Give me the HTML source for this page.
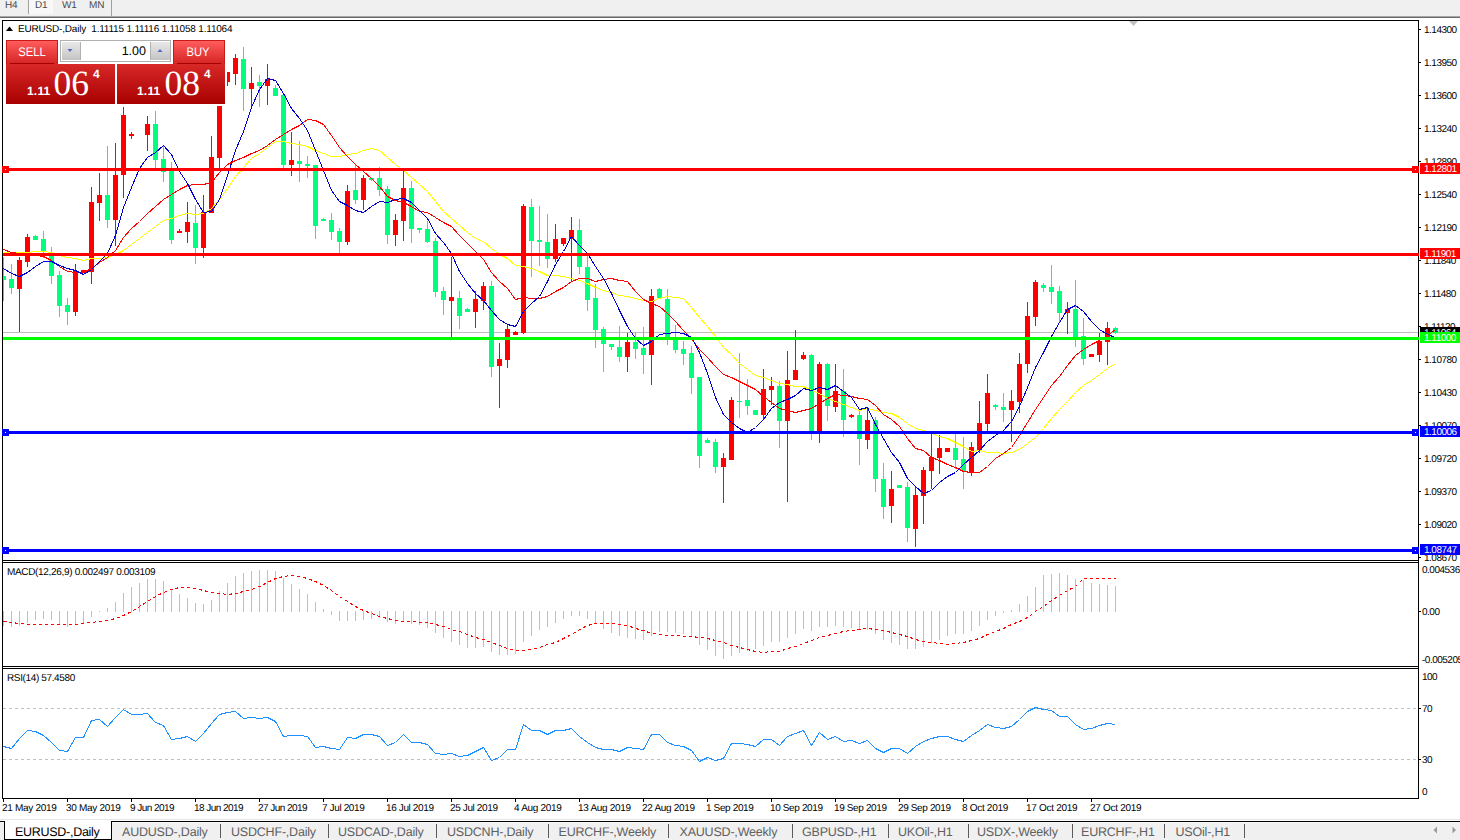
<!DOCTYPE html>
<html><head><meta charset="utf-8"><title>EURUSD-,Daily</title>
<style>
html,body{margin:0;padding:0;}
body{text-rendering:geometricPrecision;width:1460px;height:840px;overflow:hidden;background:#fff;position:relative;font-family:"Liberation Sans",sans-serif;}
.abs{position:absolute;}
.t{position:absolute;white-space:nowrap;font-size:10px;line-height:10px;color:#000;letter-spacing:-0.25px;}
.n{font-size:10px;letter-spacing:-0.5px;}
#toolbar{left:0;top:0;width:1460px;height:16px;background:#f0f0f0;}
#tbline{left:0;top:16px;width:1460px;height:1px;background:#a6a6a6;border-bottom:1px solid #6a6a6a;}
.tb{position:absolute;top:1px;font-size:10px;line-height:10px;color:#4a4a4a;letter-spacing:-0.1px;}
.pl{position:absolute;left:1420px;width:40px;height:11px;color:#fff;font-size:10px;line-height:11px;letter-spacing:-0.5px;}
.pl span{position:absolute;left:4px;top:1px;}
.tab{position:absolute;top:825px;font-size:12.5px;line-height:14px;color:#606060;white-space:nowrap;letter-spacing:-0.2px;}
.sep{position:absolute;top:824px;width:1px;height:14px;background:#5a5a5a;}
</style></head><body>

<div id="toolbar" class="abs"></div><div id="tbline" class="abs"></div>
<div class="abs" style="left:29px;top:0;width:24px;height:14px;background:#f8f8f8;"></div>
<div class="abs" style="left:28px;top:0;width:1px;height:14px;background:#a0a0a0;"></div>
<div class="abs" style="left:111px;top:0;width:1px;height:16px;background:#a0a0a0;"></div>
<div class="tb" style="left:5px;">H4</div>
<div class="tb" style="left:35px;">D1</div>
<div class="tb" style="left:62px;">W1</div>
<div class="tb" style="left:89px;">MN</div>
<svg class="abs" style="left:0;top:0;" width="1460" height="840" viewBox="0 0 1460 840" shape-rendering="crispEdges">
<rect x="2" y="20" width="1417" height="1" fill="#000"/>
<rect x="2" y="20" width="1" height="779" fill="#000"/>
<rect x="1418" y="20" width="1" height="779" fill="#000"/>
<rect x="2" y="798" width="1417" height="1" fill="#000"/>
<rect x="2" y="560" width="1417" height="1" fill="#000"/>
<rect x="2" y="562" width="1417" height="1" fill="#000"/>
<rect x="2" y="666" width="1417" height="1" fill="#000"/>
<rect x="2" y="668" width="1417" height="1" fill="#000"/>
<rect x="3" y="332" width="1415" height="1" fill="#c0c0c0"/>
<rect x="3" y="257" width="1" height="44" fill="#00ff7f"/>
<rect x="3" y="276" width="3" height="4" fill="#00ff7f"/>
<rect x="11" y="264" width="1" height="30" fill="#00ff7f"/>
<rect x="9" y="279" width="5" height="9" fill="#00ff7f"/>
<rect x="19" y="257" width="1" height="75" fill="#ff0000"/>
<rect x="17" y="260" width="5" height="29" fill="#ff0000"/>
<rect x="27" y="234" width="1" height="33" fill="#ff0000"/>
<rect x="25" y="237" width="5" height="25" fill="#ff0000"/>
<rect x="35" y="235" width="1" height="5" fill="#00ff7f"/>
<rect x="33" y="236" width="5" height="4" fill="#00ff7f"/>
<rect x="43" y="231" width="1" height="27" fill="#00ff7f"/>
<rect x="41" y="239" width="5" height="12" fill="#00ff7f"/>
<rect x="51" y="247" width="1" height="37" fill="#00ff7f"/>
<rect x="49" y="255" width="5" height="21" fill="#00ff7f"/>
<rect x="59" y="271" width="1" height="46" fill="#00ff7f"/>
<rect x="57" y="275" width="5" height="31" fill="#00ff7f"/>
<rect x="67" y="298" width="1" height="27" fill="#00ff7f"/>
<rect x="65" y="305" width="5" height="7" fill="#00ff7f"/>
<rect x="75" y="264" width="1" height="52" fill="#ff0000"/>
<rect x="73" y="271" width="5" height="41" fill="#ff0000"/>
<rect x="83" y="270" width="1" height="3" fill="#ff0000"/>
<rect x="81" y="270" width="5" height="3" fill="#ff0000"/>
<rect x="91" y="187" width="1" height="97" fill="#ff0000"/>
<rect x="89" y="202" width="5" height="70" fill="#ff0000"/>
<rect x="99" y="173" width="1" height="48" fill="#ff0000"/>
<rect x="97" y="195" width="5" height="8" fill="#ff0000"/>
<rect x="107" y="146" width="1" height="82" fill="#00ff7f"/>
<rect x="105" y="195" width="5" height="25" fill="#00ff7f"/>
<rect x="115" y="143" width="1" height="103" fill="#ff0000"/>
<rect x="113" y="175" width="5" height="45" fill="#ff0000"/>
<rect x="123" y="107" width="1" height="91" fill="#ff0000"/>
<rect x="121" y="115" width="5" height="60" fill="#ff0000"/>
<rect x="131" y="132" width="1" height="7" fill="#ff0000"/>
<rect x="129" y="134" width="5" height="2" fill="#ff0000"/>
<rect x="147" y="116" width="1" height="35" fill="#ff0000"/>
<rect x="145" y="124" width="5" height="11" fill="#ff0000"/>
<rect x="155" y="111" width="1" height="57" fill="#00ff7f"/>
<rect x="153" y="124" width="5" height="36" fill="#00ff7f"/>
<rect x="163" y="145" width="1" height="37" fill="#00ff7f"/>
<rect x="161" y="159" width="5" height="13" fill="#00ff7f"/>
<rect x="171" y="162" width="1" height="82" fill="#00ff7f"/>
<rect x="169" y="171" width="5" height="69" fill="#00ff7f"/>
<rect x="179" y="229" width="1" height="4" fill="#ff0000"/>
<rect x="177" y="231" width="5" height="2" fill="#ff0000"/>
<rect x="187" y="202" width="1" height="41" fill="#ff0000"/>
<rect x="185" y="222" width="5" height="10" fill="#ff0000"/>
<rect x="195" y="205" width="1" height="59" fill="#00ff7f"/>
<rect x="193" y="223" width="5" height="25" fill="#00ff7f"/>
<rect x="203" y="195" width="1" height="63" fill="#ff0000"/>
<rect x="201" y="212" width="5" height="36" fill="#ff0000"/>
<rect x="211" y="136" width="1" height="77" fill="#ff0000"/>
<rect x="209" y="157" width="5" height="56" fill="#ff0000"/>
<rect x="219" y="82" width="1" height="86" fill="#ff0000"/>
<rect x="217" y="82" width="5" height="76" fill="#ff0000"/>
<rect x="227" y="72" width="1" height="14" fill="#ff0000"/>
<rect x="225" y="72" width="5" height="10" fill="#ff0000"/>
<rect x="235" y="54" width="1" height="31" fill="#ff0000"/>
<rect x="233" y="58" width="5" height="16" fill="#ff0000"/>
<rect x="243" y="47" width="1" height="64" fill="#00ff7f"/>
<rect x="241" y="59" width="5" height="30" fill="#00ff7f"/>
<rect x="251" y="67" width="1" height="40" fill="#ff0000"/>
<rect x="249" y="83" width="5" height="6" fill="#ff0000"/>
<rect x="259" y="75" width="1" height="32" fill="#00ff7f"/>
<rect x="257" y="82" width="5" height="4" fill="#00ff7f"/>
<rect x="267" y="64" width="1" height="41" fill="#ff0000"/>
<rect x="265" y="79" width="5" height="7" fill="#ff0000"/>
<rect x="275" y="85" width="1" height="11" fill="#00ff7f"/>
<rect x="273" y="88" width="5" height="8" fill="#00ff7f"/>
<rect x="283" y="95" width="1" height="73" fill="#00ff7f"/>
<rect x="281" y="95" width="5" height="70" fill="#00ff7f"/>
<rect x="291" y="132" width="1" height="44" fill="#ff0000"/>
<rect x="289" y="160" width="5" height="5" fill="#ff0000"/>
<rect x="299" y="141" width="1" height="41" fill="#00ff7f"/>
<rect x="297" y="161" width="5" height="3" fill="#00ff7f"/>
<rect x="307" y="156" width="1" height="22" fill="#00ff7f"/>
<rect x="305" y="164" width="5" height="2" fill="#00ff7f"/>
<rect x="315" y="165" width="1" height="74" fill="#00ff7f"/>
<rect x="313" y="165" width="5" height="61" fill="#00ff7f"/>
<rect x="323" y="218" width="1" height="3" fill="#00ff7f"/>
<rect x="321" y="219" width="5" height="2" fill="#00ff7f"/>
<rect x="331" y="213" width="1" height="27" fill="#00ff7f"/>
<rect x="329" y="220" width="5" height="12" fill="#00ff7f"/>
<rect x="339" y="228" width="1" height="25" fill="#00ff7f"/>
<rect x="337" y="231" width="5" height="11" fill="#00ff7f"/>
<rect x="347" y="185" width="1" height="60" fill="#ff0000"/>
<rect x="345" y="191" width="5" height="51" fill="#ff0000"/>
<rect x="355" y="165" width="1" height="39" fill="#00ff7f"/>
<rect x="353" y="190" width="5" height="10" fill="#00ff7f"/>
<rect x="363" y="175" width="1" height="35" fill="#ff0000"/>
<rect x="361" y="178" width="5" height="22" fill="#ff0000"/>
<rect x="371" y="178" width="1" height="3" fill="#00ff7f"/>
<rect x="369" y="178" width="5" height="2" fill="#00ff7f"/>
<rect x="379" y="167" width="1" height="29" fill="#00ff7f"/>
<rect x="377" y="178" width="5" height="12" fill="#00ff7f"/>
<rect x="387" y="186" width="1" height="58" fill="#00ff7f"/>
<rect x="385" y="189" width="5" height="46" fill="#00ff7f"/>
<rect x="395" y="214" width="1" height="32" fill="#ff0000"/>
<rect x="393" y="220" width="5" height="15" fill="#ff0000"/>
<rect x="403" y="171" width="1" height="70" fill="#ff0000"/>
<rect x="401" y="188" width="5" height="33" fill="#ff0000"/>
<rect x="411" y="181" width="1" height="62" fill="#00ff7f"/>
<rect x="409" y="188" width="5" height="41" fill="#00ff7f"/>
<rect x="419" y="228" width="1" height="5" fill="#00ff7f"/>
<rect x="417" y="228" width="5" height="2" fill="#00ff7f"/>
<rect x="427" y="221" width="1" height="22" fill="#00ff7f"/>
<rect x="425" y="229" width="5" height="13" fill="#00ff7f"/>
<rect x="435" y="238" width="1" height="59" fill="#00ff7f"/>
<rect x="433" y="241" width="5" height="51" fill="#00ff7f"/>
<rect x="443" y="287" width="1" height="28" fill="#00ff7f"/>
<rect x="441" y="291" width="5" height="9" fill="#00ff7f"/>
<rect x="451" y="257" width="1" height="80" fill="#ff0000"/>
<rect x="449" y="297" width="5" height="4" fill="#ff0000"/>
<rect x="459" y="291" width="1" height="38" fill="#00ff7f"/>
<rect x="457" y="298" width="5" height="18" fill="#00ff7f"/>
<rect x="467" y="308" width="1" height="4" fill="#00ff7f"/>
<rect x="465" y="309" width="5" height="3" fill="#00ff7f"/>
<rect x="475" y="291" width="1" height="37" fill="#ff0000"/>
<rect x="473" y="299" width="5" height="13" fill="#ff0000"/>
<rect x="483" y="282" width="1" height="28" fill="#ff0000"/>
<rect x="481" y="286" width="5" height="15" fill="#ff0000"/>
<rect x="491" y="281" width="1" height="96" fill="#00ff7f"/>
<rect x="489" y="286" width="5" height="81" fill="#00ff7f"/>
<rect x="499" y="343" width="1" height="65" fill="#ff0000"/>
<rect x="497" y="359" width="5" height="7" fill="#ff0000"/>
<rect x="507" y="325" width="1" height="43" fill="#ff0000"/>
<rect x="505" y="329" width="5" height="31" fill="#ff0000"/>
<rect x="515" y="331" width="1" height="4" fill="#ff0000"/>
<rect x="513" y="332" width="5" height="3" fill="#ff0000"/>
<rect x="523" y="204" width="1" height="130" fill="#ff0000"/>
<rect x="521" y="206" width="5" height="127" fill="#ff0000"/>
<rect x="531" y="199" width="1" height="78" fill="#00ff7f"/>
<rect x="529" y="207" width="5" height="34" fill="#00ff7f"/>
<rect x="539" y="206" width="1" height="60" fill="#00ff7f"/>
<rect x="537" y="240" width="5" height="2" fill="#00ff7f"/>
<rect x="547" y="214" width="1" height="54" fill="#00ff7f"/>
<rect x="545" y="242" width="5" height="17" fill="#00ff7f"/>
<rect x="555" y="224" width="1" height="38" fill="#ff0000"/>
<rect x="553" y="239" width="5" height="20" fill="#ff0000"/>
<rect x="563" y="238" width="1" height="8" fill="#ff0000"/>
<rect x="561" y="238" width="5" height="6" fill="#ff0000"/>
<rect x="571" y="217" width="1" height="65" fill="#ff0000"/>
<rect x="569" y="230" width="5" height="9" fill="#ff0000"/>
<rect x="579" y="219" width="1" height="55" fill="#00ff7f"/>
<rect x="577" y="230" width="5" height="37" fill="#00ff7f"/>
<rect x="587" y="256" width="1" height="55" fill="#00ff7f"/>
<rect x="585" y="267" width="5" height="33" fill="#00ff7f"/>
<rect x="595" y="284" width="1" height="64" fill="#00ff7f"/>
<rect x="593" y="298" width="5" height="32" fill="#00ff7f"/>
<rect x="603" y="327" width="1" height="45" fill="#00ff7f"/>
<rect x="601" y="329" width="5" height="15" fill="#00ff7f"/>
<rect x="611" y="344" width="1" height="6" fill="#00ff7f"/>
<rect x="609" y="344" width="5" height="3" fill="#00ff7f"/>
<rect x="619" y="326" width="1" height="36" fill="#00ff7f"/>
<rect x="617" y="347" width="5" height="10" fill="#00ff7f"/>
<rect x="627" y="333" width="1" height="39" fill="#ff0000"/>
<rect x="625" y="342" width="5" height="15" fill="#ff0000"/>
<rect x="635" y="332" width="1" height="27" fill="#00ff7f"/>
<rect x="633" y="342" width="5" height="7" fill="#00ff7f"/>
<rect x="643" y="327" width="1" height="47" fill="#00ff7f"/>
<rect x="641" y="348" width="5" height="7" fill="#00ff7f"/>
<rect x="651" y="289" width="1" height="96" fill="#ff0000"/>
<rect x="649" y="296" width="5" height="59" fill="#ff0000"/>
<rect x="659" y="288" width="1" height="11" fill="#00ff7f"/>
<rect x="657" y="289" width="5" height="9" fill="#00ff7f"/>
<rect x="667" y="289" width="1" height="56" fill="#00ff7f"/>
<rect x="665" y="299" width="5" height="38" fill="#00ff7f"/>
<rect x="675" y="325" width="1" height="28" fill="#00ff7f"/>
<rect x="673" y="338" width="5" height="12" fill="#00ff7f"/>
<rect x="683" y="341" width="1" height="24" fill="#00ff7f"/>
<rect x="681" y="349" width="5" height="5" fill="#00ff7f"/>
<rect x="691" y="346" width="1" height="48" fill="#00ff7f"/>
<rect x="689" y="353" width="5" height="25" fill="#00ff7f"/>
<rect x="699" y="377" width="1" height="91" fill="#00ff7f"/>
<rect x="697" y="377" width="5" height="79" fill="#00ff7f"/>
<rect x="707" y="438" width="1" height="5" fill="#00ff7f"/>
<rect x="705" y="440" width="5" height="3" fill="#00ff7f"/>
<rect x="715" y="439" width="1" height="34" fill="#00ff7f"/>
<rect x="713" y="442" width="5" height="25" fill="#00ff7f"/>
<rect x="723" y="453" width="1" height="50" fill="#ff0000"/>
<rect x="721" y="458" width="5" height="9" fill="#ff0000"/>
<rect x="731" y="397" width="1" height="63" fill="#ff0000"/>
<rect x="729" y="400" width="5" height="60" fill="#ff0000"/>
<rect x="739" y="353" width="1" height="65" fill="#00ff7f"/>
<rect x="737" y="401" width="5" height="1" fill="#00ff7f"/>
<rect x="747" y="379" width="1" height="36" fill="#00ff7f"/>
<rect x="745" y="400" width="5" height="6" fill="#00ff7f"/>
<rect x="755" y="410" width="1" height="5" fill="#00ff7f"/>
<rect x="753" y="410" width="5" height="5" fill="#00ff7f"/>
<rect x="763" y="369" width="1" height="50" fill="#ff0000"/>
<rect x="761" y="389" width="5" height="26" fill="#ff0000"/>
<rect x="771" y="377" width="1" height="28" fill="#ff0000"/>
<rect x="769" y="386" width="5" height="4" fill="#ff0000"/>
<rect x="779" y="381" width="1" height="67" fill="#00ff7f"/>
<rect x="777" y="386" width="5" height="35" fill="#00ff7f"/>
<rect x="787" y="351" width="1" height="151" fill="#ff0000"/>
<rect x="785" y="380" width="5" height="41" fill="#ff0000"/>
<rect x="795" y="330" width="1" height="50" fill="#ff0000"/>
<rect x="793" y="370" width="5" height="10" fill="#ff0000"/>
<rect x="803" y="352" width="1" height="8" fill="#ff0000"/>
<rect x="801" y="355" width="5" height="4" fill="#ff0000"/>
<rect x="811" y="354" width="1" height="86" fill="#00ff7f"/>
<rect x="809" y="355" width="5" height="77" fill="#00ff7f"/>
<rect x="819" y="362" width="1" height="81" fill="#ff0000"/>
<rect x="817" y="364" width="5" height="68" fill="#ff0000"/>
<rect x="827" y="363" width="1" height="58" fill="#00ff7f"/>
<rect x="825" y="364" width="5" height="42" fill="#00ff7f"/>
<rect x="835" y="364" width="1" height="48" fill="#ff0000"/>
<rect x="833" y="391" width="5" height="16" fill="#ff0000"/>
<rect x="843" y="369" width="1" height="68" fill="#00ff7f"/>
<rect x="841" y="391" width="5" height="29" fill="#00ff7f"/>
<rect x="851" y="414" width="1" height="4" fill="#ff0000"/>
<rect x="849" y="415" width="5" height="2" fill="#ff0000"/>
<rect x="859" y="411" width="1" height="54" fill="#00ff7f"/>
<rect x="857" y="415" width="5" height="24" fill="#00ff7f"/>
<rect x="867" y="409" width="1" height="40" fill="#ff0000"/>
<rect x="865" y="420" width="5" height="20" fill="#ff0000"/>
<rect x="875" y="417" width="1" height="75" fill="#00ff7f"/>
<rect x="873" y="420" width="5" height="59" fill="#00ff7f"/>
<rect x="883" y="463" width="1" height="56" fill="#00ff7f"/>
<rect x="881" y="479" width="5" height="28" fill="#00ff7f"/>
<rect x="891" y="471" width="1" height="52" fill="#ff0000"/>
<rect x="889" y="489" width="5" height="17" fill="#ff0000"/>
<rect x="899" y="485" width="1" height="3" fill="#00ff7f"/>
<rect x="897" y="485" width="5" height="3" fill="#00ff7f"/>
<rect x="907" y="482" width="1" height="60" fill="#00ff7f"/>
<rect x="905" y="487" width="5" height="41" fill="#00ff7f"/>
<rect x="915" y="487" width="1" height="60" fill="#ff0000"/>
<rect x="913" y="495" width="5" height="34" fill="#ff0000"/>
<rect x="923" y="467" width="1" height="57" fill="#ff0000"/>
<rect x="921" y="470" width="5" height="26" fill="#ff0000"/>
<rect x="931" y="432" width="1" height="57" fill="#ff0000"/>
<rect x="929" y="457" width="5" height="14" fill="#ff0000"/>
<rect x="939" y="435" width="1" height="39" fill="#ff0000"/>
<rect x="937" y="448" width="5" height="10" fill="#ff0000"/>
<rect x="947" y="448" width="1" height="4" fill="#ff0000"/>
<rect x="945" y="448" width="5" height="4" fill="#ff0000"/>
<rect x="955" y="433" width="1" height="36" fill="#00ff7f"/>
<rect x="953" y="448" width="5" height="12" fill="#00ff7f"/>
<rect x="963" y="437" width="1" height="52" fill="#00ff7f"/>
<rect x="961" y="459" width="5" height="12" fill="#00ff7f"/>
<rect x="971" y="442" width="1" height="34" fill="#ff0000"/>
<rect x="969" y="447" width="5" height="25" fill="#ff0000"/>
<rect x="979" y="401" width="1" height="52" fill="#ff0000"/>
<rect x="977" y="423" width="5" height="27" fill="#ff0000"/>
<rect x="987" y="374" width="1" height="58" fill="#ff0000"/>
<rect x="985" y="393" width="5" height="31" fill="#ff0000"/>
<rect x="995" y="404" width="1" height="6" fill="#00ff7f"/>
<rect x="993" y="405" width="5" height="2" fill="#00ff7f"/>
<rect x="1003" y="393" width="1" height="29" fill="#00ff7f"/>
<rect x="1001" y="407" width="5" height="3" fill="#00ff7f"/>
<rect x="1011" y="390" width="1" height="52" fill="#ff0000"/>
<rect x="1009" y="401" width="5" height="9" fill="#ff0000"/>
<rect x="1019" y="353" width="1" height="60" fill="#ff0000"/>
<rect x="1017" y="364" width="5" height="38" fill="#ff0000"/>
<rect x="1027" y="302" width="1" height="71" fill="#ff0000"/>
<rect x="1025" y="316" width="5" height="48" fill="#ff0000"/>
<rect x="1035" y="280" width="1" height="46" fill="#ff0000"/>
<rect x="1033" y="282" width="5" height="35" fill="#ff0000"/>
<rect x="1043" y="283" width="1" height="9" fill="#00ff7f"/>
<rect x="1041" y="285" width="5" height="3" fill="#00ff7f"/>
<rect x="1051" y="265" width="1" height="39" fill="#00ff7f"/>
<rect x="1049" y="287" width="5" height="5" fill="#00ff7f"/>
<rect x="1059" y="286" width="1" height="36" fill="#00ff7f"/>
<rect x="1057" y="291" width="5" height="22" fill="#00ff7f"/>
<rect x="1067" y="302" width="1" height="32" fill="#ff0000"/>
<rect x="1065" y="309" width="5" height="4" fill="#ff0000"/>
<rect x="1075" y="280" width="1" height="67" fill="#00ff7f"/>
<rect x="1073" y="309" width="5" height="28" fill="#00ff7f"/>
<rect x="1083" y="318" width="1" height="47" fill="#00ff7f"/>
<rect x="1081" y="336" width="5" height="23" fill="#00ff7f"/>
<rect x="1091" y="354" width="1" height="3" fill="#ff0000"/>
<rect x="1089" y="354" width="5" height="3" fill="#ff0000"/>
<rect x="1099" y="333" width="1" height="29" fill="#ff0000"/>
<rect x="1097" y="341" width="5" height="14" fill="#ff0000"/>
<rect x="1107" y="322" width="1" height="43" fill="#ff0000"/>
<rect x="1105" y="328" width="5" height="14" fill="#ff0000"/>
<rect x="1115" y="327" width="1" height="7" fill="#00ff7f"/>
<rect x="1113" y="328" width="5" height="5" fill="#00ff7f"/>
<polyline points="3.5,252.5 11.5,252.5 19.5,252.5 27.5,252.5 35.5,251.5 43.5,251.5 51.5,252.5 59.5,255.5 67.5,257.5 75.5,258.5 83.5,260.5 91.5,258.5 99.5,258.5 107.5,257.5 115.5,254.5 123.5,250.5 131.5,244.5 139.5,238.5 147.5,232.5 155.5,226.5 163.5,220.5 171.5,218.5 179.5,215.5 187.5,213.5 195.5,214.5 203.5,213.5 211.5,208.5 219.5,199.5 227.5,188.5 235.5,176.5 243.5,167.5 251.5,158.5 259.5,153.5 267.5,147.5 275.5,141.5 283.5,141.5 291.5,143.5 299.5,144.5 307.5,146.5 315.5,150.5 323.5,153.5 331.5,156.5 339.5,156.5 347.5,154.5 355.5,153.5 363.5,150.5 371.5,148.5 379.5,150.5 387.5,157.5 395.5,164.5 403.5,170.5 411.5,177.5 419.5,184.5 427.5,191.5 435.5,201.5 443.5,211.5 451.5,218.5 459.5,225.5 467.5,232.5 475.5,238.5 483.5,241.5 491.5,248.5 499.5,254.5 507.5,258.5 515.5,265.5 523.5,266.5 531.5,268.5 539.5,271.5 547.5,275.5 555.5,275.5 563.5,276.5 571.5,278.5 579.5,280.5 587.5,283.5 595.5,287.5 603.5,290.5 611.5,292.5 619.5,295.5 627.5,296.5 635.5,298.5 643.5,300.5 651.5,301.5 659.5,298.5 667.5,296.5 675.5,297.5 683.5,298.5 691.5,307.5 699.5,317.5 707.5,326.5 715.5,336.5 723.5,347.5 731.5,354.5 739.5,363.5 747.5,369.5 755.5,375.5 763.5,377.5 771.5,380.5 779.5,383.5 787.5,384.5 795.5,386.5 803.5,386.5 811.5,390.5 819.5,393.5 827.5,398.5 835.5,401.5 843.5,404.5 851.5,407.5 859.5,410.5 867.5,408.5 875.5,410.5 883.5,412.5 891.5,413.5 899.5,417.5 907.5,423.5 915.5,428.5 923.5,430.5 931.5,433.5 939.5,436.5 947.5,438.5 955.5,442.5 963.5,446.5 971.5,451.5 979.5,450.5 987.5,452.5 995.5,452.5 1003.5,453.5 1011.5,452.5 1019.5,449.5 1027.5,443.5 1035.5,437.5 1043.5,428.5 1051.5,418.5 1059.5,409.5 1067.5,401.5 1075.5,392.5 1083.5,385.5 1091.5,380.5 1099.5,374.5 1107.5,368.5 1115.5,363.5" fill="none" stroke="#ffff00" stroke-width="1"/>
<polyline points="3.5,249.5 11.5,252.5 19.5,253.5 27.5,254.5 35.5,255.5 43.5,256.5 51.5,260.5 59.5,266.5 67.5,271.5 75.5,272.5 83.5,272.5 91.5,268.5 99.5,262.5 107.5,257.5 115.5,250.5 123.5,237.5 131.5,228.5 139.5,221.5 147.5,213.5 155.5,206.5 163.5,199.5 171.5,194.5 179.5,189.5 187.5,185.5 195.5,184.5 203.5,184.5 211.5,182.5 219.5,172.5 227.5,164.5 235.5,160.5 243.5,157.5 251.5,153.5 259.5,150.5 267.5,145.5 275.5,139.5 283.5,134.5 291.5,129.5 299.5,125.5 307.5,119.5 315.5,120.5 323.5,124.5 331.5,135.5 339.5,147.5 347.5,156.5 355.5,164.5 363.5,171.5 371.5,178.5 379.5,186.5 387.5,196.5 395.5,200.5 403.5,202.5 411.5,206.5 419.5,211.5 427.5,212.5 435.5,217.5 443.5,222.5 451.5,226.5 459.5,235.5 467.5,243.5 475.5,251.5 483.5,259.5 491.5,272.5 499.5,281.5 507.5,288.5 515.5,299.5 523.5,297.5 531.5,298.5 539.5,298.5 547.5,296.5 555.5,291.5 563.5,287.5 571.5,281.5 579.5,278.5 587.5,278.5 595.5,281.5 603.5,279.5 611.5,278.5 619.5,280.5 627.5,281.5 635.5,291.5 643.5,299.5 651.5,303.5 659.5,306.5 667.5,313.5 675.5,321.5 683.5,330.5 691.5,338.5 699.5,349.5 707.5,357.5 715.5,366.5 723.5,374.5 731.5,377.5 739.5,381.5 747.5,385.5 755.5,389.5 763.5,396.5 771.5,402.5 779.5,408.5 787.5,410.5 795.5,412.5 803.5,410.5 811.5,408.5 819.5,403.5 827.5,398.5 835.5,394.5 843.5,395.5 851.5,396.5 859.5,398.5 867.5,399.5 875.5,405.5 883.5,414.5 891.5,419.5 899.5,426.5 907.5,438.5 915.5,448.5 923.5,450.5 931.5,457.5 939.5,460.5 947.5,464.5 955.5,467.5 963.5,471.5 971.5,472.5 979.5,472.5 987.5,466.5 995.5,458.5 1003.5,453.5 1011.5,447.5 1019.5,435.5 1027.5,422.5 1035.5,409.5 1043.5,397.5 1051.5,385.5 1059.5,376.5 1067.5,365.5 1075.5,355.5 1083.5,349.5 1091.5,344.5 1099.5,340.5 1107.5,335.5 1115.5,329.5" fill="none" stroke="#ff0000" stroke-width="1"/>
<polyline points="3.5,268.5 11.5,273.5 19.5,276.5 27.5,272.5 35.5,266.5 43.5,261.5 51.5,261.5 59.5,265.5 67.5,268.5 75.5,270.5 83.5,274.5 91.5,269.5 99.5,261.5 107.5,253.5 115.5,235.5 123.5,207.5 131.5,187.5 139.5,168.5 147.5,157.5 155.5,152.5 163.5,145.5 171.5,154.5 179.5,171.5 187.5,183.5 195.5,199.5 203.5,212.5 211.5,211.5 219.5,199.5 227.5,175.5 235.5,150.5 243.5,131.5 251.5,107.5 259.5,89.5 267.5,78.5 275.5,80.5 283.5,93.5 291.5,108.5 299.5,118.5 307.5,130.5 315.5,150.5 323.5,170.5 331.5,190.5 339.5,201.5 347.5,205.5 355.5,210.5 363.5,212.5 371.5,206.5 379.5,201.5 387.5,202.5 395.5,199.5 403.5,198.5 411.5,202.5 419.5,210.5 427.5,218.5 435.5,233.5 443.5,242.5 451.5,253.5 459.5,271.5 467.5,283.5 475.5,293.5 483.5,300.5 491.5,310.5 499.5,319.5 507.5,324.5 515.5,326.5 523.5,311.5 531.5,303.5 539.5,296.5 547.5,281.5 555.5,264.5 563.5,251.5 571.5,236.5 579.5,245.5 587.5,253.5 595.5,266.5 603.5,278.5 611.5,293.5 619.5,310.5 627.5,326.5 635.5,338.5 643.5,345.5 651.5,341.5 659.5,334.5 667.5,333.5 675.5,332.5 683.5,333.5 691.5,337.5 699.5,352.5 707.5,373.5 715.5,397.5 723.5,414.5 731.5,422.5 739.5,428.5 747.5,432.5 755.5,427.5 763.5,419.5 771.5,408.5 779.5,402.5 787.5,399.5 795.5,395.5 803.5,388.5 811.5,390.5 819.5,387.5 827.5,389.5 835.5,385.5 843.5,391.5 851.5,397.5 859.5,409.5 867.5,407.5 875.5,424.5 883.5,438.5 891.5,452.5 899.5,462.5 907.5,478.5 915.5,486.5 923.5,493.5 931.5,490.5 939.5,482.5 947.5,476.5 955.5,472.5 963.5,464.5 971.5,457.5 979.5,450.5 987.5,441.5 995.5,435.5 1003.5,430.5 1011.5,421.5 1019.5,406.5 1027.5,387.5 1035.5,367.5 1043.5,352.5 1051.5,336.5 1059.5,322.5 1067.5,309.5 1075.5,305.5 1083.5,311.5 1091.5,321.5 1099.5,329.5 1107.5,334.5 1115.5,337.5" fill="none" stroke="#0000d0" stroke-width="1"/>
<rect x="3" y="168" width="1416" height="3" fill="#ff0000"/>
<rect x="3" y="253" width="1416" height="3" fill="#ff0000"/>
<rect x="3" y="337" width="1416" height="3" fill="#00ff00"/>
<rect x="3" y="431" width="1416" height="3" fill="#0000ff"/>
<rect x="3" y="549" width="1416" height="3" fill="#0000ff"/>
<rect x="2" y="166" width="7" height="7" fill="#ff0000"/><rect x="5" y="169" width="1" height="1" fill="#fff"/>
<rect x="1412" y="166" width="7" height="7" fill="#ff0000"/><rect x="1415" y="169" width="1" height="1" fill="#fff"/>
<rect x="2" y="429" width="7" height="7" fill="#0000ff"/><rect x="5" y="432" width="1" height="1" fill="#fff"/>
<rect x="1412" y="429" width="7" height="7" fill="#0000ff"/><rect x="1415" y="432" width="1" height="1" fill="#fff"/>
<rect x="2" y="547" width="7" height="7" fill="#0000ff"/><rect x="5" y="550" width="1" height="1" fill="#fff"/>
<rect x="1412" y="547" width="7" height="7" fill="#0000ff"/><rect x="1415" y="550" width="1" height="1" fill="#fff"/>
<rect x="3" y="611" width="1" height="15" fill="#c0c0c0"/>
<rect x="11" y="611" width="1" height="16" fill="#c0c0c0"/>
<rect x="19" y="611" width="1" height="15" fill="#c0c0c0"/>
<rect x="27" y="611" width="1" height="12" fill="#c0c0c0"/>
<rect x="35" y="611" width="1" height="9" fill="#c0c0c0"/>
<rect x="43" y="611" width="1" height="8" fill="#c0c0c0"/>
<rect x="51" y="611" width="1" height="9" fill="#c0c0c0"/>
<rect x="59" y="611" width="1" height="13" fill="#c0c0c0"/>
<rect x="67" y="611" width="1" height="16" fill="#c0c0c0"/>
<rect x="75" y="611" width="1" height="14" fill="#c0c0c0"/>
<rect x="83" y="611" width="1" height="13" fill="#c0c0c0"/>
<rect x="91" y="611" width="1" height="6" fill="#c0c0c0"/>
<rect x="99" y="611" width="1" height="1" fill="#c0c0c0"/>
<rect x="107" y="608" width="1" height="4" fill="#c0c0c0"/>
<rect x="115" y="602" width="1" height="10" fill="#c0c0c0"/>
<rect x="123" y="593" width="1" height="19" fill="#c0c0c0"/>
<rect x="131" y="587" width="1" height="25" fill="#c0c0c0"/>
<rect x="139" y="583" width="1" height="29" fill="#c0c0c0"/>
<rect x="147" y="579" width="1" height="33" fill="#c0c0c0"/>
<rect x="155" y="579" width="1" height="33" fill="#c0c0c0"/>
<rect x="163" y="581" width="1" height="31" fill="#c0c0c0"/>
<rect x="171" y="589" width="1" height="23" fill="#c0c0c0"/>
<rect x="179" y="594" width="1" height="18" fill="#c0c0c0"/>
<rect x="187" y="598" width="1" height="14" fill="#c0c0c0"/>
<rect x="195" y="603" width="1" height="9" fill="#c0c0c0"/>
<rect x="203" y="604" width="1" height="8" fill="#c0c0c0"/>
<rect x="211" y="600" width="1" height="12" fill="#c0c0c0"/>
<rect x="219" y="591" width="1" height="21" fill="#c0c0c0"/>
<rect x="227" y="583" width="1" height="29" fill="#c0c0c0"/>
<rect x="235" y="576" width="1" height="36" fill="#c0c0c0"/>
<rect x="243" y="573" width="1" height="39" fill="#c0c0c0"/>
<rect x="251" y="571" width="1" height="41" fill="#c0c0c0"/>
<rect x="259" y="570" width="1" height="42" fill="#c0c0c0"/>
<rect x="267" y="570" width="1" height="42" fill="#c0c0c0"/>
<rect x="275" y="571" width="1" height="41" fill="#c0c0c0"/>
<rect x="283" y="578" width="1" height="34" fill="#c0c0c0"/>
<rect x="291" y="584" width="1" height="28" fill="#c0c0c0"/>
<rect x="299" y="589" width="1" height="23" fill="#c0c0c0"/>
<rect x="307" y="594" width="1" height="18" fill="#c0c0c0"/>
<rect x="315" y="602" width="1" height="10" fill="#c0c0c0"/>
<rect x="323" y="609" width="1" height="3" fill="#c0c0c0"/>
<rect x="331" y="611" width="1" height="4" fill="#c0c0c0"/>
<rect x="339" y="611" width="1" height="10" fill="#c0c0c0"/>
<rect x="347" y="611" width="1" height="10" fill="#c0c0c0"/>
<rect x="355" y="611" width="1" height="10" fill="#c0c0c0"/>
<rect x="363" y="611" width="1" height="9" fill="#c0c0c0"/>
<rect x="371" y="611" width="1" height="8" fill="#c0c0c0"/>
<rect x="379" y="611" width="1" height="7" fill="#c0c0c0"/>
<rect x="387" y="611" width="1" height="11" fill="#c0c0c0"/>
<rect x="395" y="611" width="1" height="13" fill="#c0c0c0"/>
<rect x="403" y="611" width="1" height="11" fill="#c0c0c0"/>
<rect x="411" y="611" width="1" height="13" fill="#c0c0c0"/>
<rect x="419" y="611" width="1" height="14" fill="#c0c0c0"/>
<rect x="427" y="611" width="1" height="17" fill="#c0c0c0"/>
<rect x="435" y="611" width="1" height="22" fill="#c0c0c0"/>
<rect x="443" y="611" width="1" height="27" fill="#c0c0c0"/>
<rect x="451" y="611" width="1" height="31" fill="#c0c0c0"/>
<rect x="459" y="611" width="1" height="34" fill="#c0c0c0"/>
<rect x="467" y="611" width="1" height="37" fill="#c0c0c0"/>
<rect x="475" y="611" width="1" height="37" fill="#c0c0c0"/>
<rect x="483" y="611" width="1" height="36" fill="#c0c0c0"/>
<rect x="491" y="611" width="1" height="41" fill="#c0c0c0"/>
<rect x="499" y="611" width="1" height="44" fill="#c0c0c0"/>
<rect x="507" y="611" width="1" height="44" fill="#c0c0c0"/>
<rect x="515" y="611" width="1" height="43" fill="#c0c0c0"/>
<rect x="523" y="611" width="1" height="31" fill="#c0c0c0"/>
<rect x="531" y="611" width="1" height="25" fill="#c0c0c0"/>
<rect x="539" y="611" width="1" height="19" fill="#c0c0c0"/>
<rect x="547" y="611" width="1" height="16" fill="#c0c0c0"/>
<rect x="555" y="611" width="1" height="12" fill="#c0c0c0"/>
<rect x="563" y="611" width="1" height="8" fill="#c0c0c0"/>
<rect x="571" y="611" width="1" height="5" fill="#c0c0c0"/>
<rect x="579" y="611" width="1" height="5" fill="#c0c0c0"/>
<rect x="587" y="611" width="1" height="8" fill="#c0c0c0"/>
<rect x="595" y="611" width="1" height="13" fill="#c0c0c0"/>
<rect x="603" y="611" width="1" height="18" fill="#c0c0c0"/>
<rect x="611" y="611" width="1" height="22" fill="#c0c0c0"/>
<rect x="619" y="611" width="1" height="25" fill="#c0c0c0"/>
<rect x="627" y="611" width="1" height="27" fill="#c0c0c0"/>
<rect x="635" y="611" width="1" height="28" fill="#c0c0c0"/>
<rect x="643" y="611" width="1" height="29" fill="#c0c0c0"/>
<rect x="651" y="611" width="1" height="25" fill="#c0c0c0"/>
<rect x="659" y="611" width="1" height="21" fill="#c0c0c0"/>
<rect x="667" y="611" width="1" height="21" fill="#c0c0c0"/>
<rect x="675" y="611" width="1" height="22" fill="#c0c0c0"/>
<rect x="683" y="611" width="1" height="23" fill="#c0c0c0"/>
<rect x="691" y="611" width="1" height="26" fill="#c0c0c0"/>
<rect x="699" y="611" width="1" height="34" fill="#c0c0c0"/>
<rect x="707" y="611" width="1" height="39" fill="#c0c0c0"/>
<rect x="715" y="611" width="1" height="45" fill="#c0c0c0"/>
<rect x="723" y="611" width="1" height="48" fill="#c0c0c0"/>
<rect x="731" y="611" width="1" height="45" fill="#c0c0c0"/>
<rect x="739" y="611" width="1" height="42" fill="#c0c0c0"/>
<rect x="747" y="611" width="1" height="40" fill="#c0c0c0"/>
<rect x="755" y="611" width="1" height="38" fill="#c0c0c0"/>
<rect x="763" y="611" width="1" height="35" fill="#c0c0c0"/>
<rect x="771" y="611" width="1" height="31" fill="#c0c0c0"/>
<rect x="779" y="611" width="1" height="31" fill="#c0c0c0"/>
<rect x="787" y="611" width="1" height="27" fill="#c0c0c0"/>
<rect x="795" y="611" width="1" height="23" fill="#c0c0c0"/>
<rect x="803" y="611" width="1" height="18" fill="#c0c0c0"/>
<rect x="811" y="611" width="1" height="20" fill="#c0c0c0"/>
<rect x="819" y="611" width="1" height="16" fill="#c0c0c0"/>
<rect x="827" y="611" width="1" height="16" fill="#c0c0c0"/>
<rect x="835" y="611" width="1" height="15" fill="#c0c0c0"/>
<rect x="843" y="611" width="1" height="16" fill="#c0c0c0"/>
<rect x="851" y="611" width="1" height="17" fill="#c0c0c0"/>
<rect x="859" y="611" width="1" height="19" fill="#c0c0c0"/>
<rect x="867" y="611" width="1" height="19" fill="#c0c0c0"/>
<rect x="875" y="611" width="1" height="23" fill="#c0c0c0"/>
<rect x="883" y="611" width="1" height="29" fill="#c0c0c0"/>
<rect x="891" y="611" width="1" height="32" fill="#c0c0c0"/>
<rect x="899" y="611" width="1" height="34" fill="#c0c0c0"/>
<rect x="907" y="611" width="1" height="38" fill="#c0c0c0"/>
<rect x="915" y="611" width="1" height="38" fill="#c0c0c0"/>
<rect x="923" y="611" width="1" height="36" fill="#c0c0c0"/>
<rect x="931" y="611" width="1" height="32" fill="#c0c0c0"/>
<rect x="939" y="611" width="1" height="29" fill="#c0c0c0"/>
<rect x="947" y="611" width="1" height="25" fill="#c0c0c0"/>
<rect x="955" y="611" width="1" height="23" fill="#c0c0c0"/>
<rect x="963" y="611" width="1" height="23" fill="#c0c0c0"/>
<rect x="971" y="611" width="1" height="20" fill="#c0c0c0"/>
<rect x="979" y="611" width="1" height="15" fill="#c0c0c0"/>
<rect x="987" y="611" width="1" height="9" fill="#c0c0c0"/>
<rect x="995" y="611" width="1" height="5" fill="#c0c0c0"/>
<rect x="1003" y="611" width="1" height="2" fill="#c0c0c0"/>
<rect x="1011" y="610" width="1" height="2" fill="#c0c0c0"/>
<rect x="1019" y="604" width="1" height="8" fill="#c0c0c0"/>
<rect x="1027" y="596" width="1" height="16" fill="#c0c0c0"/>
<rect x="1035" y="587" width="1" height="25" fill="#c0c0c0"/>
<rect x="1043" y="575" width="1" height="37" fill="#c0c0c0"/>
<rect x="1051" y="574" width="1" height="38" fill="#c0c0c0"/>
<rect x="1059" y="573" width="1" height="39" fill="#c0c0c0"/>
<rect x="1067" y="575" width="1" height="37" fill="#c0c0c0"/>
<rect x="1075" y="579" width="1" height="33" fill="#c0c0c0"/>
<rect x="1083" y="580" width="1" height="32" fill="#c0c0c0"/>
<rect x="1091" y="583" width="1" height="29" fill="#c0c0c0"/>
<rect x="1099" y="584" width="1" height="28" fill="#c0c0c0"/>
<rect x="1107" y="585" width="1" height="27" fill="#c0c0c0"/>
<rect x="1115" y="586" width="1" height="26" fill="#c0c0c0"/>
<polyline points="3.5,621.5 11.5,622.5 19.5,623.5 27.5,624.5 35.5,624.5 43.5,624.5 51.5,624.5 59.5,624.5 67.5,624.5 75.5,624.5 83.5,623.5 91.5,622.5 99.5,621.5 107.5,620.5 115.5,618.5 123.5,615.5 131.5,611.5 139.5,606.5 147.5,601.5 155.5,596.5 163.5,592.5 171.5,589.5 179.5,587.5 187.5,587.5 195.5,588.5 203.5,590.5 211.5,592.5 219.5,593.5 227.5,594.5 235.5,593.5 243.5,591.5 251.5,589.5 259.5,586.5 267.5,582.5 275.5,578.5 283.5,576.5 291.5,575.5 299.5,576.5 307.5,578.5 315.5,581.5 323.5,585.5 331.5,590.5 339.5,596.5 347.5,601.5 355.5,606.5 363.5,610.5 371.5,613.5 379.5,616.5 387.5,618.5 395.5,620.5 403.5,621.5 411.5,621.5 419.5,622.5 427.5,622.5 435.5,624.5 443.5,626.5 451.5,629.5 459.5,631.5 467.5,634.5 475.5,637.5 483.5,639.5 491.5,642.5 499.5,645.5 507.5,648.5 515.5,650.5 523.5,650.5 531.5,649.5 539.5,647.5 547.5,644.5 555.5,642.5 563.5,638.5 571.5,634.5 579.5,629.5 587.5,625.5 595.5,623.5 603.5,623.5 611.5,623.5 619.5,624.5 627.5,625.5 635.5,628.5 643.5,630.5 651.5,633.5 659.5,634.5 667.5,635.5 675.5,635.5 683.5,636.5 691.5,636.5 699.5,637.5 707.5,638.5 715.5,640.5 723.5,642.5 731.5,645.5 739.5,647.5 747.5,649.5 755.5,651.5 763.5,652.5 771.5,651.5 779.5,651.5 787.5,648.5 795.5,646.5 803.5,643.5 811.5,640.5 819.5,637.5 827.5,635.5 835.5,633.5 843.5,631.5 851.5,630.5 859.5,629.5 867.5,628.5 875.5,629.5 883.5,630.5 891.5,632.5 899.5,634.5 907.5,636.5 915.5,639.5 923.5,641.5 931.5,642.5 939.5,643.5 947.5,644.5 955.5,643.5 963.5,642.5 971.5,640.5 979.5,638.5 987.5,634.5 995.5,631.5 1003.5,628.5 1011.5,624.5 1019.5,621.5 1027.5,617.5 1035.5,611.5 1043.5,606.5 1051.5,600.5 1059.5,595.5 1067.5,590.5 1075.5,586.5 1083.5,578.5 1091.5,578.5 1099.5,578.5 1107.5,578.5 1115.5,578.5" fill="none" stroke="#ff0000" stroke-width="1" stroke-dasharray="3,3"/>
<line x1="3" y1="708.5" x2="1418" y2="708.5" stroke="#c0c0c0" stroke-width="1" stroke-dasharray="3,3"/>
<line x1="3" y1="759.5" x2="1418" y2="759.5" stroke="#c0c0c0" stroke-width="1" stroke-dasharray="3,3"/>
<polyline points="3.5,746.5 11.5,748.5 19.5,738.5 27.5,730.5 35.5,731.5 43.5,735.5 51.5,742.5 59.5,750.5 67.5,751.5 75.5,737.5 83.5,737.5 91.5,720.5 99.5,719.5 107.5,726.5 115.5,717.5 123.5,709.5 131.5,714.5 139.5,714.5 147.5,713.5 155.5,722.5 163.5,725.5 171.5,739.5 179.5,738.5 187.5,736.5 195.5,741.5 203.5,733.5 211.5,723.5 219.5,714.5 227.5,712.5 235.5,711.5 243.5,718.5 251.5,717.5 259.5,718.5 267.5,717.5 275.5,721.5 283.5,736.5 291.5,735.5 299.5,735.5 307.5,736.5 315.5,747.5 323.5,746.5 331.5,748.5 339.5,749.5 347.5,737.5 355.5,738.5 363.5,734.5 371.5,734.5 379.5,736.5 387.5,745.5 395.5,742.5 403.5,734.5 411.5,742.5 419.5,742.5 427.5,744.5 435.5,753.5 443.5,754.5 451.5,753.5 459.5,756.5 467.5,755.5 475.5,751.5 483.5,747.5 491.5,760.5 499.5,757.5 507.5,749.5 515.5,749.5 523.5,724.5 531.5,730.5 539.5,730.5 547.5,734.5 555.5,730.5 563.5,730.5 571.5,728.5 579.5,736.5 587.5,742.5 595.5,747.5 603.5,749.5 611.5,749.5 619.5,751.5 627.5,747.5 635.5,748.5 643.5,749.5 651.5,734.5 659.5,734.5 667.5,742.5 675.5,745.5 683.5,746.5 691.5,750.5 699.5,761.5 707.5,757.5 715.5,760.5 723.5,758.5 731.5,743.5 739.5,743.5 747.5,744.5 755.5,746.5 763.5,739.5 771.5,739.5 779.5,745.5 787.5,736.5 795.5,733.5 803.5,730.5 811.5,745.5 819.5,732.5 827.5,739.5 835.5,736.5 843.5,741.5 851.5,740.5 859.5,743.5 867.5,740.5 875.5,748.5 883.5,752.5 891.5,748.5 899.5,748.5 907.5,753.5 915.5,746.5 923.5,741.5 931.5,738.5 939.5,736.5 947.5,736.5 955.5,739.5 963.5,741.5 971.5,735.5 979.5,730.5 987.5,724.5 995.5,727.5 1003.5,728.5 1011.5,726.5 1019.5,719.5 1027.5,711.5 1035.5,707.5 1043.5,709.5 1051.5,710.5 1059.5,716.5 1067.5,716.5 1075.5,724.5 1083.5,729.5 1091.5,728.5 1099.5,725.5 1107.5,723.5 1115.5,724.5" fill="none" stroke="#1e90ff" stroke-width="1"/>
<rect x="1419" y="29" width="2" height="1" fill="#000"/>
<rect x="1419" y="62" width="2" height="1" fill="#000"/>
<rect x="1419" y="95" width="2" height="1" fill="#000"/>
<rect x="1419" y="128" width="2" height="1" fill="#000"/>
<rect x="1419" y="161" width="2" height="1" fill="#000"/>
<rect x="1419" y="194" width="2" height="1" fill="#000"/>
<rect x="1419" y="227" width="2" height="1" fill="#000"/>
<rect x="1419" y="260" width="2" height="1" fill="#000"/>
<rect x="1419" y="293" width="2" height="1" fill="#000"/>
<rect x="1419" y="326" width="2" height="1" fill="#000"/>
<rect x="1419" y="359" width="2" height="1" fill="#000"/>
<rect x="1419" y="392" width="2" height="1" fill="#000"/>
<rect x="1419" y="425" width="2" height="1" fill="#000"/>
<rect x="1419" y="458" width="2" height="1" fill="#000"/>
<rect x="1419" y="491" width="2" height="1" fill="#000"/>
<rect x="1419" y="524" width="2" height="1" fill="#000"/>
<rect x="1419" y="557" width="2" height="1" fill="#000"/>
<rect x="1419" y="611" width="2" height="1" fill="#000"/>
<rect x="1419" y="708" width="2" height="1" fill="#000"/>
<rect x="1419" y="759" width="2" height="1" fill="#000"/>
<rect x="3" y="799" width="1" height="3" fill="#000"/>
<rect x="67" y="799" width="1" height="3" fill="#000"/>
<rect x="131" y="799" width="1" height="3" fill="#000"/>
<rect x="195" y="799" width="1" height="3" fill="#000"/>
<rect x="259" y="799" width="1" height="3" fill="#000"/>
<rect x="323" y="799" width="1" height="3" fill="#000"/>
<rect x="387" y="799" width="1" height="3" fill="#000"/>
<rect x="451" y="799" width="1" height="3" fill="#000"/>
<rect x="515" y="799" width="1" height="3" fill="#000"/>
<rect x="579" y="799" width="1" height="3" fill="#000"/>
<rect x="643" y="799" width="1" height="3" fill="#000"/>
<rect x="707" y="799" width="1" height="3" fill="#000"/>
<rect x="771" y="799" width="1" height="3" fill="#000"/>
<rect x="835" y="799" width="1" height="3" fill="#000"/>
<rect x="899" y="799" width="1" height="3" fill="#000"/>
<rect x="963" y="799" width="1" height="3" fill="#000"/>
<rect x="1027" y="799" width="1" height="3" fill="#000"/>
<rect x="1091" y="799" width="1" height="3" fill="#000"/>
<polygon points="1129,21 1138,21 1133.5,26" fill="#c0c0c0" shape-rendering="auto"/>
</svg>
<div class="t n" style="left:1424px;top:26px;">1.14300</div>
<div class="t n" style="left:1424px;top:59px;">1.13950</div>
<div class="t n" style="left:1424px;top:92px;">1.13600</div>
<div class="t n" style="left:1424px;top:125px;">1.13240</div>
<div class="t n" style="left:1424px;top:158px;">1.12890</div>
<div class="t n" style="left:1424px;top:191px;">1.12540</div>
<div class="t n" style="left:1424px;top:224px;">1.12190</div>
<div class="t n" style="left:1424px;top:257px;">1.11840</div>
<div class="t n" style="left:1424px;top:290px;">1.11480</div>
<div class="t n" style="left:1424px;top:323px;">1.11120</div>
<div class="t n" style="left:1424px;top:356px;">1.10780</div>
<div class="t n" style="left:1424px;top:389px;">1.10430</div>
<div class="t n" style="left:1424px;top:422px;">1.10070</div>
<div class="t n" style="left:1424px;top:455px;">1.09720</div>
<div class="t n" style="left:1424px;top:488px;">1.09370</div>
<div class="t n" style="left:1424px;top:521px;">1.09020</div>
<div class="t n" style="left:1424px;top:554px;">1.08670</div>
<div class="t n" style="left:1422px;top:566px;">0.004536</div>
<div class="t n" style="left:1422px;top:608px;">0.00</div>
<div class="t n" style="left:1422px;top:656px;">-0.005205</div>
<div class="t n" style="left:1422px;top:673px;">100</div>
<div class="t n" style="left:1422px;top:705px;">70</div>
<div class="t n" style="left:1422px;top:756px;">30</div>
<div class="t n" style="left:1422px;top:788px;">0</div>
<div class="pl" style="top:327px;background:#000;"><span>1.11064</span></div>
<div class="pl" style="top:163px;background:#ff0000;"><span>1.12801</span></div>
<div class="pl" style="top:248px;background:#ff0000;"><span>1.11901</span></div>
<div class="pl" style="top:332px;background:#00ff00;"><span>1.11000</span></div>
<div class="pl" style="top:426px;background:#0000ff;"><span>1.10006</span></div>
<div class="pl" style="top:544px;background:#0000ff;"><span>1.08747</span></div>
<svg class="abs" style="left:6px;top:26px;" width="8" height="6"><polygon points="0,5 7,5 3.5,0.5" fill="#000"/></svg>
<div class="t" style="left:18px;top:25px;letter-spacing:-0.19px;">EURUSD-,Daily&nbsp; 1.11115 1.11116 1.11058 1.11064</div>
<div class="t" style="left:7px;top:568px;letter-spacing:-0.33px;">MACD(12,26,9) 0.002497 0.003109</div>
<div class="t" style="left:7px;top:674px;letter-spacing:-0.37px;">RSI(14) 57.4580</div>
<div class="t" style="left:2px;top:804px;letter-spacing:-0.3px;">21 May 2019</div>
<div class="t" style="left:66px;top:804px;letter-spacing:-0.3px;">30 May 2019</div>
<div class="t" style="left:130px;top:804px;letter-spacing:-0.55px;">9 Jun 2019</div>
<div class="t" style="left:194px;top:804px;letter-spacing:-0.55px;">18 Jun 2019</div>
<div class="t" style="left:258px;top:804px;letter-spacing:-0.55px;">27 Jun 2019</div>
<div class="t" style="left:322px;top:804px;letter-spacing:-0.37px;">7 Jul 2019</div>
<div class="t" style="left:386px;top:804px;letter-spacing:-0.37px;">16 Jul 2019</div>
<div class="t" style="left:450px;top:804px;letter-spacing:-0.37px;">25 Jul 2019</div>
<div class="t" style="left:514px;top:804px;letter-spacing:-0.3px;">4 Aug 2019</div>
<div class="t" style="left:578px;top:804px;letter-spacing:-0.3px;">13 Aug 2019</div>
<div class="t" style="left:642px;top:804px;letter-spacing:-0.3px;">22 Aug 2019</div>
<div class="t" style="left:706px;top:804px;letter-spacing:-0.37px;">1 Sep 2019</div>
<div class="t" style="left:770px;top:804px;letter-spacing:-0.37px;">10 Sep 2019</div>
<div class="t" style="left:834px;top:804px;letter-spacing:-0.37px;">19 Sep 2019</div>
<div class="t" style="left:898px;top:804px;letter-spacing:-0.37px;">29 Sep 2019</div>
<div class="t" style="left:962px;top:804px;letter-spacing:-0.3px;">8 Oct 2019</div>
<div class="t" style="left:1026px;top:804px;letter-spacing:-0.3px;">17 Oct 2019</div>
<div class="t" style="left:1090px;top:804px;letter-spacing:-0.3px;">27 Oct 2019</div>

<div class="abs" style="left:4px;top:38px;width:223px;height:68px;background:#fff;"></div>
<div class="abs" style="left:6px;top:40px;width:52px;height:24px;box-sizing:border-box;border:1px solid #c81818;border-bottom:none;background:linear-gradient(#ff5c5c,#d62424);"></div>
<div class="abs" style="left:10px;top:63px;width:44px;height:1px;background:#a80000;"></div>
<div class="abs" style="left:173px;top:40px;width:52px;height:24px;box-sizing:border-box;border:1px solid #c81818;border-bottom:none;background:linear-gradient(#ff5c5c,#d62424);"></div>
<div class="abs" style="left:177px;top:63px;width:44px;height:1px;background:#a80000;"></div>
<div class="abs" style="left:6px;top:64px;width:109px;height:40px;background:linear-gradient(#d82828,#a80000);"></div>
<div class="abs" style="left:117px;top:64px;width:108px;height:40px;background:linear-gradient(#d82828,#a80000);"></div>
<div class="abs" style="left:58px;top:40px;width:115px;height:24px;background:#fff;"></div>
<div class="abs" style="left:60px;top:40px;width:109px;height:20px;background:#fff;border:1px solid #b0b0b0;"></div>
<div class="abs" style="left:62px;top:42px;width:18px;height:18px;background:linear-gradient(#e8e8e8,#c4c4c4);border-right:1px solid #b0b0b0;"></div>
<div class="abs" style="left:150px;top:42px;width:19px;height:18px;background:linear-gradient(#e8e8e8,#c4c4c4);border-left:1px solid #b0b0b0;"></div>
<svg class="abs" style="left:66px;top:48px;" width="8" height="5"><polygon points="1.5,1 6.5,1 4,4" fill="#5565c5"/></svg>
<svg class="abs" style="left:156px;top:48px;" width="8" height="5"><polygon points="1.5,4 6.5,4 4,1" fill="#5565c5"/></svg>
<div class="abs" style="left:80px;top:43px;width:66px;height:16px;font-size:12.5px;line-height:16px;text-align:right;color:#000;">1.00</div>
<div class="abs" style="left:6px;top:44.5px;width:52px;font-size:12.5px;line-height:14px;text-align:center;color:#fff;transform:scaleX(0.9);">SELL</div>
<div class="abs" style="left:172px;top:44.5px;width:52px;font-size:12.5px;line-height:14px;text-align:center;color:#fff;transform:scaleX(0.9);">BUY</div>
<div class="abs" style="left:27px;top:85px;font-size:12px;line-height:12px;font-weight:bold;color:#fff;letter-spacing:0.2px;">1.11</div>
<div class="abs" style="left:137px;top:85px;font-size:12px;line-height:12px;font-weight:bold;color:#fff;letter-spacing:0.2px;">1.11</div>
<div class="abs" style="left:53.5px;top:64.5px;font-family:'Liberation Serif',serif;font-size:35.5px;line-height:36px;color:#fff;">06</div>
<div class="abs" style="left:164.5px;top:64.5px;font-family:'Liberation Serif',serif;font-size:35.5px;line-height:36px;color:#fff;">08</div>
<div class="abs" style="left:93px;top:68px;font-size:12px;line-height:12px;font-weight:bold;color:#fff;">4</div>
<div class="abs" style="left:204px;top:68px;font-size:12px;line-height:12px;font-weight:bold;color:#fff;">4</div>

<div class="abs" style="left:0;top:822px;width:1460px;height:18px;background:#f0f0f0;"></div>
<div class="abs" style="left:0;top:819px;width:1460px;height:1px;background:#e6e6e6;"></div>
<div class="abs" style="left:0;top:821px;width:1460px;height:1px;background:#000;"></div>
<div class="abs" style="left:0;top:822px;width:1460px;height:1px;background:#fafafa;"></div>
<div class="abs" style="left:4px;top:820px;width:108px;height:19px;background:#fff;"></div>
<div class="abs" style="left:4px;top:821px;width:1px;height:19px;background:#000;"></div>
<div class="abs" style="left:111px;top:821px;width:1px;height:19px;background:#000;"></div>
<div class="abs" style="left:4px;top:839px;width:108px;height:1px;background:#000;"></div>
<div class="tab" style="left:15px;color:#000;letter-spacing:-0.28px;">EURUSD-,Daily</div>
<div class="tab" style="left:122px;">AUDUSD-,Daily</div>
<div class="tab" style="left:231px;">USDCHF-,Daily</div>
<div class="tab" style="left:338px;">USDCAD-,Daily</div>
<div class="tab" style="left:447px;">USDCNH-,Daily</div>
<div class="tab" style="left:558.5px;">EURCHF-,Weekly</div>
<div class="tab" style="left:679.5px;">XAUUSD-,Weekly</div>
<div class="tab" style="left:802px;">GBPUSD-,H1</div>
<div class="tab" style="left:898px;">UKOil-,H1</div>
<div class="tab" style="left:977px;">USDX-,Weekly</div>
<div class="tab" style="left:1081px;">EURCHF-,H1</div>
<div class="tab" style="left:1175.5px;">USOil-,H1</div>
<div class="sep" style="left:220px;"></div>
<div class="sep" style="left:328px;"></div>
<div class="sep" style="left:436px;"></div>
<div class="sep" style="left:548px;"></div>
<div class="sep" style="left:668px;"></div>
<div class="sep" style="left:792px;"></div>
<div class="sep" style="left:888px;"></div>
<div class="sep" style="left:968px;"></div>
<div class="sep" style="left:1072px;"></div>
<div class="sep" style="left:1164px;"></div>
<div class="sep" style="left:1244px;"></div>
<svg class="abs" style="left:1433px;top:826px;" width="24" height="8"><polygon points="4,0.5 4,7.5 0.5,4" fill="#9a9a9a"/><polygon points="19.5,0.5 19.5,7.5 23,4" fill="#9a9a9a"/></svg>
</body></html>
